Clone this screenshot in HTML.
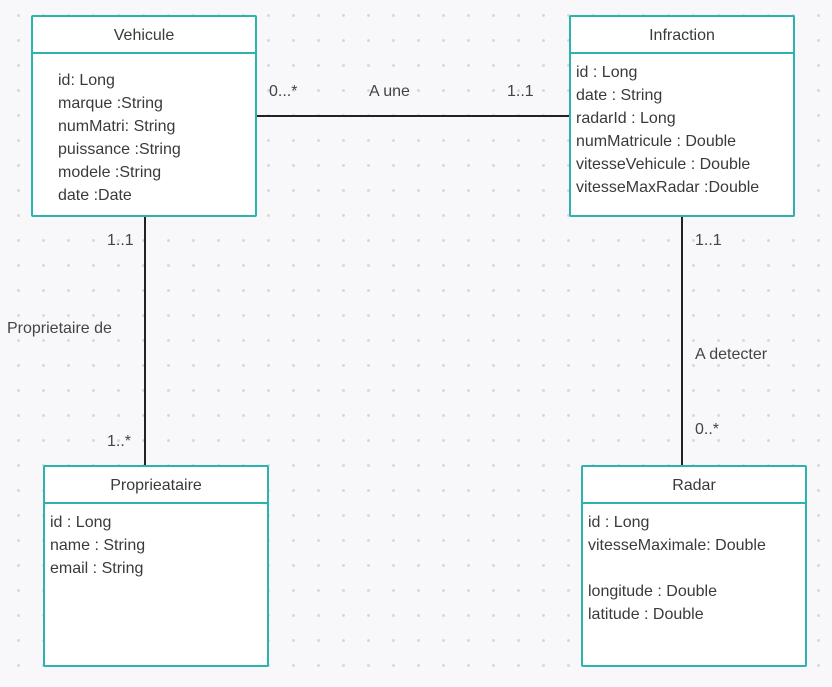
<!DOCTYPE html>
<html><head><meta charset="utf-8"><style>
body{margin:0;width:832px;height:687px;overflow:hidden;background-color:#f8f8fa;
background-image:radial-gradient(circle,#d8d8dc 1.3px,transparent 1.6px);background-size:25px 25px;background-position:6px 3px;
font-family:"Liberation Sans",sans-serif;color:#3a3a3a;position:relative}
.box{position:absolute;width:222px;height:198px;border:2px solid #2db3ad;border-radius:2px;background:#fff;box-sizing:content-box}
.hd{height:35px;border-bottom:2px solid #2db3ad;text-align:center;line-height:38px;font-size:16px}
.bd{font-size:16px;line-height:23px;padding-left:5px;padding-top:7px}
.l{position:absolute;background:#222}
.t{position:absolute;font-size:16px;color:#444}
</style></head><body>
<div class="l" style="left:257px;top:115px;width:312px;height:2px"></div>
<div class="l" style="left:144px;top:216px;width:2px;height:250px"></div>
<div class="l" style="left:681px;top:216px;width:2px;height:250px"></div>

<div class="box" style="left:31px;top:15px"><div class="hd">Vehicule</div>
<div class="bd" style="padding-left:25px;padding-top:15px">id: Long<br>marque :String<br>numMatri: String<br>puissance :String<br>modele :String<br>date :Date</div></div>

<div class="box" style="left:569px;top:15px"><div class="hd">Infraction</div>
<div class="bd">id : Long<br>date : String<br>radarId : Long<br>numMatricule : Double<br>vitesseVehicule : Double<br>vitesseMaxRadar :Double</div></div>

<div class="box" style="left:43px;top:465px"><div class="hd">Proprieataire</div>
<div class="bd">id : Long<br>name : String<br>email : String</div></div>

<div class="box" style="left:581px;top:465px"><div class="hd">Radar</div>
<div class="bd">id : Long<br>vitesseMaximale: Double<br><br>longitude : Double<br>latitude : Double</div></div>

<div class="t" style="left:269px;top:83px">0...*</div>
<div class="t" style="left:369px;top:83px">A une</div>
<div class="t" style="left:507px;top:83px">1..1</div>
<div class="t" style="left:107px;top:232px">1..1</div>
<div class="t" style="left:7px;top:320px">Proprietaire de</div>
<div class="t" style="left:107px;top:433px">1..*</div>
<div class="t" style="left:695px;top:232px">1..1</div>
<div class="t" style="left:695px;top:346px">A detecter</div>
<div class="t" style="left:695px;top:421px">0..*</div>
</body></html>
